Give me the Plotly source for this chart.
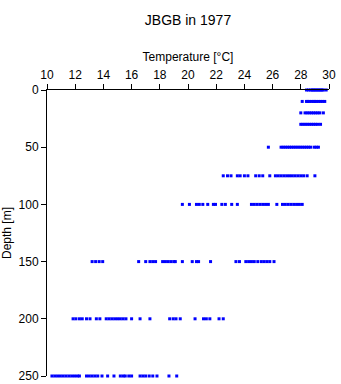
import plotly.graph_objects as go

# Temperature readings (°C) at each sampling depth (m)
t_0 = [28.4, 28.55, 28.7, 28.8, 28.9, 29.0, 29.1, 29.2, 29.3, 29.4, 29.5, 29.6, 29.8]
t_10 = [28.1, 28.4, 28.5, 28.6, 28.75, 28.9, 29.0, 29.1, 29.25, 29.4, 29.55, 29.7]
t_20 = [28.0, 28.3, 28.45, 28.6, 28.75, 28.9, 29.05, 29.2, 29.35, 29.6]
t_30 = [28.0, 28.15, 28.3, 28.45, 28.6, 28.75, 28.9, 29.05, 29.2, 29.4]
t_50 = [25.7, 26.6, 26.75, 26.9, 27.05, 27.2, 27.35, 27.5, 27.65, 27.8, 27.95, 28.1,
        28.25, 28.4, 28.55, 28.7, 28.95, 29.1, 29.25]
t_75 = [22.5, 22.8, 23.05, 23.5, 23.7, 24.0, 24.25, 24.8, 25.05, 25.3, 25.8, 26.2,
        26.4, 26.6, 26.8, 27.0, 27.2, 27.4, 27.6, 27.8, 28.0, 28.2, 28.45, 29.0]
t_100 = [19.6, 20.1, 20.6, 20.8, 21.05, 21.4, 21.8, 21.95, 22.4, 22.65, 23.1, 23.5,
         24.5, 24.7, 24.9, 25.1, 25.3, 25.5, 25.7, 26.3, 26.7, 26.9, 27.1, 27.3,
         27.5, 27.7, 27.9, 28.1]
t_150 = [13.2, 13.45, 13.7, 13.95, 16.5, 17.0, 17.3, 17.5, 17.7, 18.2, 18.4, 18.6,
         18.8, 19.0, 19.1, 19.6, 20.3, 20.6, 20.75, 21.6, 23.4, 23.65, 24.1, 24.3,
         24.5, 24.7, 24.95, 25.2, 25.4, 25.6, 25.8, 26.1]
t_200 = [11.85, 12.05, 12.3, 12.5, 12.8, 13.05, 13.5, 13.75, 14.2, 14.4, 14.6, 14.8,
         15.0, 15.2, 15.4, 15.6, 16.0, 16.6, 17.3, 18.7, 18.95, 19.15, 19.45, 20.5,
         21.1, 21.3, 21.55, 22.2, 22.5]
t_250 = [10.35, 10.55, 10.75, 10.95, 11.15, 11.35, 11.55, 11.75, 11.95, 12.15, 12.3,
         12.8, 13.0, 13.2, 13.4, 13.6, 13.9, 14.3, 14.75, 15.2, 15.4, 15.55, 15.8,
         16.0, 16.6, 16.8, 17.0, 17.25, 17.5, 17.8, 18.65, 19.2]

depths = [0, 10, 20, 30, 50, 75, 100, 150, 200, 250]
temps_by_depth = [t_0, t_10, t_20, t_30, t_50, t_75, t_100, t_150, t_200, t_250]

x_vals, y_vals = [], []
for d, ts in zip(depths, temps_by_depth):
    x_vals += ts
    y_vals += [d] * len(ts)

x_ticks = [10, 12, 14, 16, 18, 20, 22, 24, 26, 28, 30]
y_ticks = [0, 50, 100, 150, 200, 250]

font = "Liberation Sans, Arial, sans-serif"

fig = go.Figure(go.Scatter(
    x=x_vals, y=y_vals, mode="markers",
    marker=dict(symbol="square", size=3, color="#0000ff", line=dict(width=0)),
    cliponaxis=False, showlegend=False,
))

fig.update_layout(
    template="none",
    width=341, height=384,
    margin=dict(l=47, r=12, t=90, b=8, autoexpand=False),
    paper_bgcolor="white", plot_bgcolor="white",
    font=dict(family=font, size=12, color="black"),
    title=dict(text="JBGB in 1977", x=(47 + 329) / 2 / 341, xanchor="center",
               y=1 - 20 / 384, yanchor="middle", font=dict(size=14)),
    xaxis=dict(
        side="top", range=[10, 30], tickvals=x_ticks, ticktext=[str(v) for v in x_ticks],
        showline=True, linecolor="black", linewidth=1, mirror=False, automargin=False,
        ticks="outside", ticklen=5, tickcolor="black", showgrid=False, zeroline=False,
        title=dict(text="Temperature [°C]", standoff=4, font=dict(size=12)),
        tickfont=dict(size=12),
    ),
    yaxis=dict(
        range=[250, 0], tickvals=y_ticks, ticktext=[str(v) for v in y_ticks],
        showline=True, linecolor="black", linewidth=1, mirror=False, automargin=False,
        ticks="outside", ticklen=5, tickcolor="black", showgrid=False, zeroline=False,
        title=dict(text="Depth [m]", standoff=4, font=dict(size=12)),
        tickfont=dict(size=12),
    ),
)

fig.write_html("out.html")
